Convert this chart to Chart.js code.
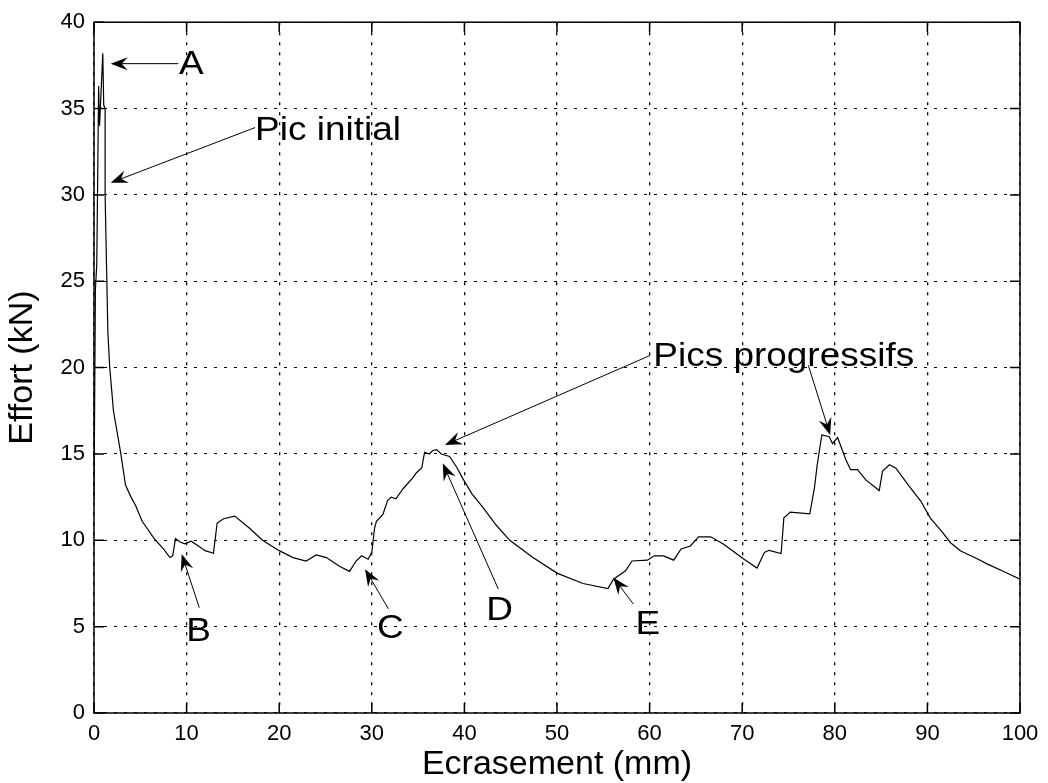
<!DOCTYPE html>
<html lang="fr">
<head>
    <meta charset="UTF-8">
    <title>Effort - Ecrasement</title>
    <script src="https://cdn.jsdelivr.net/npm/chart.js"></script>
    <style>
        html, body { margin: 0; padding: 0; background: #fff; }
        #wrap { width: 1048px; height: 783px; }
    </style>
</head>
<body>
    <div id="wrap"><canvas id="crushChart" width="1048" height="783"></canvas></div>
    <script>
        // courbe effort / ecrasement
        const ecrasement = [0, 0.15, 0.3, 0.5, 0.6, 0.95, 1.05, 1.2, 1.2, 1.35, 1.5, 1.7, 2.1, 2.9, 3.4, 4.0, 4.5, 5.2, 6.5, 7.5, 8.2,
            8.5, 8.8, 9.3, 9.8, 10.5, 11.2, 12, 12.9, 13.3, 14, 15.2, 16.8, 18.2, 20, 21.5, 22.9, 24, 25.1, 26.5, 27.6,
            28.3, 28.9, 29.6, 30.0, 30.3, 30.5, 31.2, 31.7, 32.1, 32.6, 33.4, 34.4, 34.8, 35.4, 35.7, 36.2, 36.6, 37.0, 37.5, 38.4,
            39.2, 39.8, 40.8, 42.0, 43.4, 44.9, 47.4, 50.0, 52.8, 55.5, 56.1, 57.4, 58.1, 59.75, 60.5, 61.5, 62.6, 63.4, 64.4, 65.3, 66.6, 68.0, 70.2,
            71.6, 72.4, 72.9, 74.2, 74.5, 75.2, 77.3, 77.8, 78.1, 78.6, 79.4, 79.75, 80.3, 81.2, 81.7, 82.45, 83.35, 84.8, 85.15, 85.9,
            86.6, 87.9, 89.3, 90.3, 91.5, 92.5, 93.6, 95.1, 96.5, 98.3, 100];
        const effort = [12.3, 24.5, 26, 36.3, 34, 38.2, 35.2, 35, 30, 26, 22, 20, 17.5, 15, 13.2, 12.5, 12, 11.1, 10.1, 9.5, 9.0,
            9.1, 10.1, 9.9, 9.8, 9.95, 9.7, 9.4, 9.25, 11.0, 11.25, 11.4, 10.7, 10.0, 9.4, 9.0, 8.8, 9.15, 9.0, 8.5, 8.2,
            8.8, 9.1, 8.9, 9.3, 10.7, 11.1, 11.5, 12.3, 12.5, 12.4, 13.0, 13.6, 13.9, 14.2, 15.1, 15.0, 15.2, 15.25, 15.0, 14.85,
            14.2, 13.6, 12.7, 11.9, 10.9, 10.0, 9.0, 8.1, 7.5, 7.2, 7.75, 8.23, 8.8, 8.85, 9.1, 9.1, 8.85, 9.5, 9.67, 10.2, 10.2, 9.77, 8.9,
            8.39, 9.29, 9.42, 9.23, 11.3, 11.63, 11.53, 13.03, 14.37, 16.1, 16.0, 15.6, 15.95, 14.66, 14.09, 14.09, 13.5, 12.88, 13.99, 14.37,
            14.18, 13.22, 12.26, 11.3, 10.54, 9.86, 9.38, 9.0, 8.62, 8.18, 7.75];

        const xTicks = [0, 10, 20, 30, 40, 50, 60, 70, 80, 90, 100];
        const yTicks = [0, 5, 10, 15, 20, 25, 30, 35, 40];

        // textes et fleches (coordonnees en mm / kN)
        const labels = [
            { text: "A", x: 10.5, y: 37.5, align: "center" },
            { text: "Pic initial", x: 17.4, y: 33.7, align: "left" },
            { text: "B", x: 11.3, y: 4.7, align: "center" },
            { text: "C", x: 32.0, y: 4.85, align: "center" },
            { text: "D", x: 43.8, y: 5.9, align: "center" },
            { text: "E", x: 59.8, y: 5.1, align: "center" },
            { text: "Pics progressifs", x: 60.4, y: 20.6, align: "left" }
        ];
        const arrows = [
            { from: [9.1, 37.6], to: [1.8, 37.6] },
            { from: [17.4, 33.9], to: [1.8, 30.7] },
            { from: [11.37, 6.1], to: [9.47, 9.2] },
            { from: [31.8, 6.03], to: [29.27, 8.33] },
            { from: [43.66, 7.18], to: [37.66, 14.46] },
            { from: [58.24, 6.31], to: [56.08, 7.85] },
            { from: [60.04, 20.7], to: [37.9, 15.52] },
            { from: [77.14, 20.13], to: [79.5, 16.1] }
        ];

        const FONT = '"Liberation Sans", Arial, Helvetica, sans-serif';

        const framePlugin = {
            id: "frame",
            afterDatasetsDraw(chart) {
                const { ctx, chartArea: a, scales: { x, y } } = chart;
                ctx.save();
                ctx.strokeStyle = "#000";
                ctx.lineWidth = 1.5;
                ctx.strokeRect(a.left, a.top, a.right - a.left, a.bottom - a.top);
                // graduations vers l'interieur
                const tl = 10;
                ctx.beginPath();
                xTicks.forEach(v => {
                    const px = x.getPixelForValue(v);
                    ctx.moveTo(px, a.bottom); ctx.lineTo(px, a.bottom - tl);
                    ctx.moveTo(px, a.top); ctx.lineTo(px, a.top + tl);
                });
                yTicks.forEach(v => {
                    const py = y.getPixelForValue(v);
                    ctx.moveTo(a.left, py); ctx.lineTo(a.left + tl, py);
                    ctx.moveTo(a.right, py); ctx.lineTo(a.right - tl, py);
                });
                ctx.stroke();

                // fleches
                ctx.fillStyle = "#000";
                ctx.lineWidth = 1;
                arrows.forEach(ar => {
                    const x0 = x.getPixelForValue(ar.from[0]), y0 = y.getPixelForValue(ar.from[1]);
                    const x1 = x.getPixelForValue(ar.to[0]), y1 = y.getPixelForValue(ar.to[1]);
                    const len = Math.hypot(x1 - x0, y1 - y0);
                    const ux = (x1 - x0) / len, uy = (y1 - y0) / len;
                    const nx = -uy, ny = ux;
                    const L = 17, W = 6.5;
                    ctx.beginPath();
                    ctx.moveTo(x0, y0);
                    ctx.lineTo(x1 - ux * L * 0.6, y1 - uy * L * 0.6);
                    ctx.stroke();
                    const bx = x1 - ux * L, by = y1 - uy * L;
                    ctx.beginPath();
                    ctx.moveTo(x1, y1);
                    ctx.lineTo(bx + nx * W, by + ny * W);
                    ctx.lineTo(x1 - ux * L * 0.65, y1 - uy * L * 0.65);
                    ctx.lineTo(bx - nx * W, by - ny * W);
                    ctx.closePath();
                    ctx.fill();
                });

                // textes (un peu elargis comme sur la figure)
                ctx.font = "33px " + FONT;
                ctx.textBaseline = "middle";
                labels.forEach(l => {
                    ctx.save();
                    ctx.translate(x.getPixelForValue(l.x), y.getPixelForValue(l.y));
                    ctx.scale(1.12, 1);
                    ctx.textAlign = l.align;
                    ctx.fillText(l.text, 0, 0);
                    ctx.restore();
                });
                ctx.restore();
            }
        };

        window.onload = function () {
            const points = ecrasement.map((v, i) => ({ x: v, y: effort[i] }));
            const ctx = document.getElementById("crushChart").getContext("2d");
            new Chart(ctx, {
                type: "line",
                data: {
                    datasets: [{
                        data: points,
                        borderColor: "#000",
                        borderWidth: 1.2,
                        pointRadius: 0,
                        tension: 0,
                        fill: false
                    }]
                },
                options: {
                    responsive: false,
                    animation: false,
                    events: [],
                    layout: { padding: { top: 18, right: 28, left: 0, bottom: 0 } },
                    plugins: { legend: { display: false }, tooltip: { enabled: false } },
                    scales: {
                        x: {
                            type: "linear",
                            min: 0, max: 100,
                            afterFit(s) { s.height = 70; },
                            afterBuildTicks(s) { s.ticks = xTicks.map(v => ({ value: v })); },
                            grid: { color: "#000", lineWidth: 1.3, drawTicks: false },
                            border: { display: false, dash: [3, 7] },
                            ticks: { color: "#000", padding: 8, maxRotation: 0, font: { family: FONT, size: 22 } },
                            title: { display: true, text: "Ecrasement (mm)", color: "#000",
                                     font: { family: FONT, size: 34, lineHeight: 1.1 }, padding: { top: 0, bottom: 0 } }
                        },
                        y: {
                            min: 0, max: 40,
                            afterFit(s) { s.width = 94; },
                            afterBuildTicks(s) { s.ticks = yTicks.map(v => ({ value: v })); },
                            grid: { color: "#000", lineWidth: 1.1, drawTicks: false },
                            border: { display: false, dash: [3, 7] },
                            ticks: { color: "#000", padding: 9, font: { family: FONT, size: 22 } },
                            title: { display: true, text: "Effort (kN)", color: "#000",
                                     font: { family: FONT, size: 34, lineHeight: 1.1 }, padding: { top: 4, bottom: 0 } }
                        }
                    }
                },
                plugins: [framePlugin]
            });
        };
    </script>
</body>
</html>
